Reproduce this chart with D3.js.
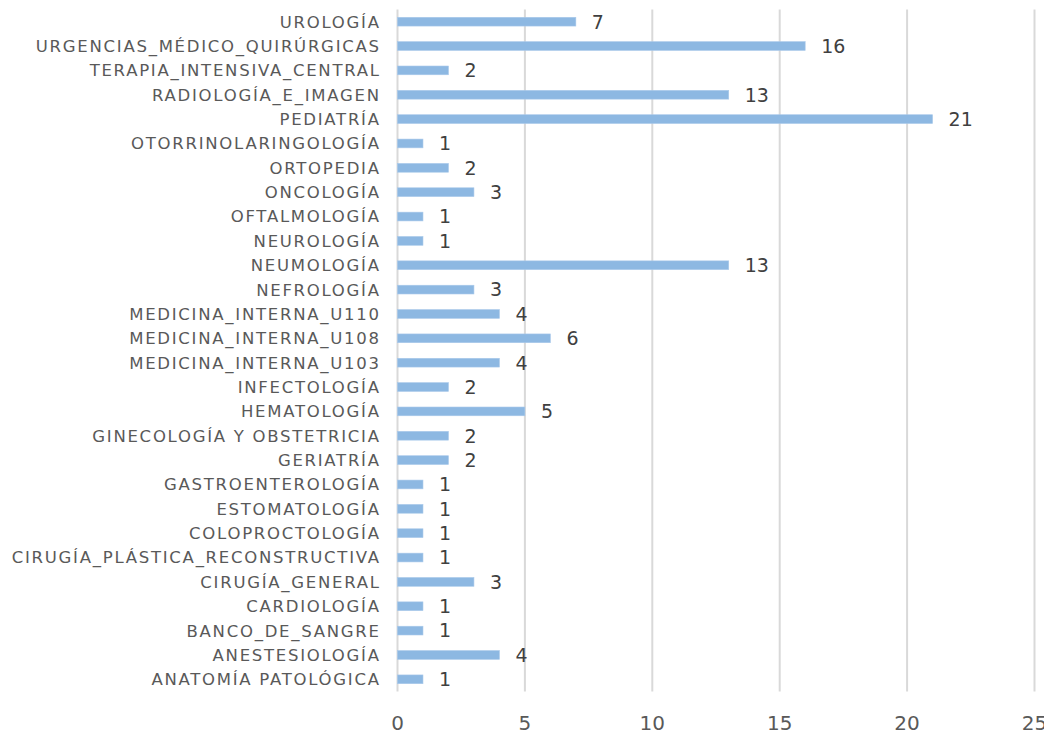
<!DOCTYPE html>
<html>
<head>
<meta charset="utf-8">
<script src="https://cdn.jsdelivr.net/npm/d3@7"></script>
<style>
  html, body { margin: 0; padding: 0; background: #fff; }
  svg { display: block; font-family: "DejaVu Sans", sans-serif; }
</style>
</head>
<body>
<svg id="chart" width="1044" height="734"></svg>
<script>
// Services, listed top to bottom
const categories = [
  "UROLOGÍA", "URGENCIAS_MÉDICO_QUIRÚRGICAS", "TERAPIA_INTENSIVA_CENTRAL",
  "RADIOLOGÍA_E_IMAGEN", "PEDIATRÍA", "OTORRINOLARINGOLOGÍA", "ORTOPEDIA",
  "ONCOLOGÍA", "OFTALMOLOGÍA", "NEUROLOGÍA", "NEUMOLOGÍA", "NEFROLOGÍA",
  "MEDICINA_INTERNA_U110", "MEDICINA_INTERNA_U108", "MEDICINA_INTERNA_U103",
  "INFECTOLOGÍA", "HEMATOLOGÍA", "GINECOLOGÍA Y OBSTETRICIA", "GERIATRÍA",
  "GASTROENTEROLOGÍA", "ESTOMATOLOGÍA", "COLOPROCTOLOGÍA",
  "CIRUGÍA_PLÁSTICA_RECONSTRUCTIVA", "CIRUGÍA_GENERAL", "CARDIOLOGÍA",
  "BANCO_DE_SANGRE", "ANESTESIOLOGÍA", "ANATOMÍA PATOLÓGICA"
];
const values = [7, 16, 2, 13, 21, 1, 2, 3, 1, 1, 13, 3, 4, 6, 4, 2, 5, 2, 2, 1, 1, 1, 1, 3, 1, 1, 4, 1];
const xTicks = [0, 5, 10, 15, 20, 25];

const svg = d3.select("#chart");
const plotLeft = 397.5, plotRight = 1034.5, plotTop = 9.5, plotBottom = 691.5;

const x = d3.scaleLinear().domain([0, 25]).range([plotLeft, plotRight]);
const y = d3.scaleBand().domain(categories).range([plotTop, plotBottom]).paddingInner(0.64).paddingOuter(0.32);

// vertical gridlines
svg.append("g").selectAll("line").data(xTicks).join("line")
  .attr("x1", d => x(d)).attr("x2", d => x(d))
  .attr("y1", plotTop).attr("y2", plotBottom)
  .attr("stroke", "#d9d9d9").attr("stroke-width", 2);

// bars
svg.append("g").selectAll("rect").data(values).join("rect")
  .attr("x", x(0))
  .attr("y", (d, i) => y(categories[i]))
  .attr("width", d => x(d) - x(0))
  .attr("height", y.bandwidth())
  .attr("fill", "#8db8e2")
  .attr("stroke", "#a9c9ea").attr("stroke-width", 0.6);

// value labels
svg.append("g").selectAll("text").data(values).join("text")
  .attr("x", d => x(d) + 16)
  .attr("y", (d, i) => y(categories[i]) + y.bandwidth() / 2)
  .attr("dy", "0.36em")
  .attr("font-size", 19)
  .attr("fill", "#404040")
  .text(d => d);

// category axis labels, spaced out so the longest one spans the label column
const labelRight = 379, labelColumn = 369;
const catLabels = svg.append("g").selectAll("text").data(categories).join("text")
  .attr("x", labelRight)
  .attr("y", d => y(d) + y.bandwidth() / 2)
  .attr("dy", "0.36em")
  .attr("text-anchor", "end")
  .attr("font-size", 16.5)
  .attr("fill", "#595959")
  .text(d => d);
let widest = null, widestLen = 0;
catLabels.each(function () {
  const w = this.getComputedTextLength();
  if (w > widestLen) { widestLen = w; widest = this.textContent; }
});
const spacing = Math.max(0, (labelColumn - widestLen) / widest.length);
catLabels.attr("letter-spacing", spacing).attr("x", labelRight + spacing);

// x axis tick labels
svg.append("g").selectAll("text").data(xTicks).join("text")
  .attr("x", d => x(d))
  .attr("y", 723)
  .attr("dy", "0.36em")
  .attr("text-anchor", "middle")
  .attr("font-size", 20)
  .attr("fill", "#595959")
  .text(d => d);
</script>
</body>
</html>
